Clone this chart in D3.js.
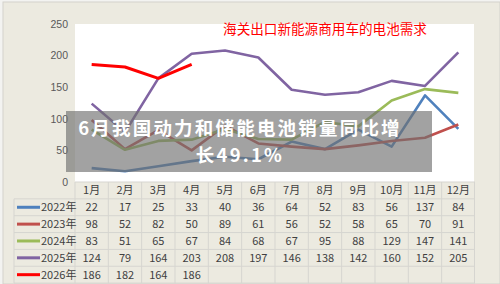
<!DOCTYPE html>
<html><head><meta charset="utf-8">
<script src="https://cdn.jsdelivr.net/npm/d3@7"></script>
<style>
html,body{margin:0;padding:0;background:#f3f3f1;}
svg{display:block;}
</style></head>
<body>
<svg id="chart" width="500" height="284"></svg>
<script>
const months = ["1月","2月","3月","4月","5月","6月","7月","8月","9月","10月","11月","12月"];
const yearLabels = ["2022年","2023年","2024年","2025年","2026年"];
const s2022 = [22,17,25,33,40,36,64,52,83,56,137,84];
const s2023 = [98,52,82,50,89,61,56,52,58,65,70,91];
const s2024 = [83,51,65,67,84,68,67,95,88,129,147,141];
const s2025 = [124,79,164,203,208,197,146,138,142,160,152,205];
const s2026 = [186,182,164,186];
const seriesColors = ["#4F81BD","#C0504D","#9BBB59","#8064A2","#FF0000"];
const yTicks = [0,50,100,150,200,250];
const title = "海关出口新能源商用车的电池需求";
const bannerLines = ["6月我国动力和储能电池销量同比增","长49.1%"];

const series = [s2022,s2023,s2024,s2025,s2026];

const svg = d3.select("#chart");
const W = 500, H = 284;
const plot = {x0:75, x1:475, y0:24, y1:182};
const rowH = 16.85;
const legendX = 14;

svg.append("rect").attr("x",3).attr("y",2).attr("width",W-3).attr("height",H-2)
  .attr("fill","#ECEAE0").attr("stroke","#d3d2cc").attr("stroke-width",1);

svg.append("rect").attr("x",plot.x0).attr("y",plot.y0).attr("width",plot.x1-plot.x0-1).attr("height",plot.y1-plot.y0)
  .attr("fill","#ffffff");

const x = d3.scaleBand().domain(months).range([plot.x0, plot.x1]).padding(0);
const y = d3.scaleLinear().domain([0,250]).range([plot.y1, plot.y0]);

const yAxis = d3.axisLeft(y).tickValues(yTicks).tickSize(0).tickPadding(3);
const gy = svg.append("g").attr("transform",`translate(71,0)`).call(yAxis);
gy.select(".domain").remove();
gy.selectAll("text").attr("fill","#595959").attr("font-size","10.5px")
  .attr("font-family","'Liberation Sans', Arial, sans-serif");

svg.append("text").attr("x",325).attr("y",34).attr("text-anchor","middle")
  .attr("fill","#FF0000").attr("font-size","13.6px")
  .attr("font-family","'Noto Sans CJK SC', sans-serif").text(title);

const line = d3.line().x((d,i)=>x(months[i])+x.bandwidth()/2).y(d=>y(d));
series.forEach((s,k)=>{
  svg.append("path").datum(s).attr("d",line).attr("fill","none")
    .attr("stroke",seriesColors[k]).attr("stroke-width", k===4?3:2.6)
    .attr("stroke-linejoin","round");
});

const tTop = plot.y1;
const grid = "#D6D5D0";
const tg = svg.append("g");
for(let r=0;r<=6;r++){
  const yy = tTop + r*rowH;
  tg.append("line").attr("x1", r>=1?legendX:plot.x0).attr("x2",plot.x1)
    .attr("y1",yy).attr("y2",yy).attr("stroke",grid).attr("stroke-width",1);
}
months.forEach((m,i)=>{
  tg.append("line").attr("x1",x(m)).attr("x2",x(m)).attr("y1",tTop).attr("y2",tTop+6*rowH)
    .attr("stroke",grid);
});
tg.append("line").attr("x1",plot.x1-0.5).attr("x2",plot.x1-0.5).attr("y1",tTop).attr("y2",tTop+6*rowH).attr("stroke",grid);
tg.append("line").attr("x1",legendX).attr("x2",legendX).attr("y1",tTop+rowH).attr("y2",tTop+6*rowH).attr("stroke",grid);

const font = "'Noto Sans CJK SC', 'Liberation Sans', sans-serif";
tg.selectAll("text.hdr").data(months).enter().append("text")
  .attr("x",d=>x(d)+x.bandwidth()/2).attr("y",tTop+rowH/2+4)
  .attr("text-anchor","middle").attr("fill","#404040").attr("font-size","11px")
  .attr("font-family",font).text(d=>d);

series.forEach((s,k)=>{
  const cy = tTop + (k+1)*rowH + rowH/2;
  tg.append("line").attr("x1",17).attr("x2",40).attr("y1",cy).attr("y2",cy)
    .attr("stroke",seriesColors[k]).attr("stroke-width",3);
  tg.append("text").attr("x",41).attr("y",cy+4).attr("fill","#404040")
    .attr("font-size","11px").attr("font-family",font).text(yearLabels[k]);
  tg.selectAll(null).data(s).enter().append("text")
    .attr("x",(d,i)=>x(months[i])+x.bandwidth()/2).attr("y",cy+4)
    .attr("text-anchor","middle").attr("fill","#404040").attr("font-size","11px")
    .attr("font-family",font).text(d=>d);
});

svg.append("rect").attr("x",66).attr("y",111).attr("width",366).attr("height",61)
  .attr("fill","rgba(112,112,112,0.65)");
bannerLines.forEach((t,i)=>{
  svg.append("text").attr("x",240).attr("y",135+i*27).attr("text-anchor","middle")
    .attr("fill","#ffffff").attr("font-size","18.5px").attr("font-weight","bold")
    .attr("letter-spacing","2.2px")
    .attr("font-family","'Noto Sans CJK SC', sans-serif").text(t);
});
</script>
</body></html>
